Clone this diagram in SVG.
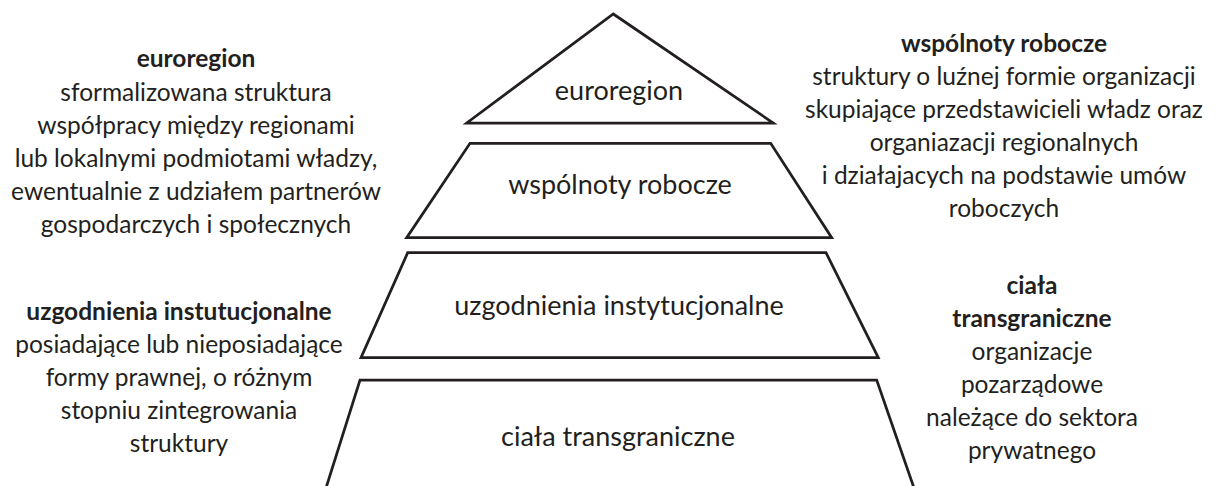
<svg xmlns="http://www.w3.org/2000/svg" width="1217" height="486" viewBox="0 0 1217 486">
<style>
.shape{fill:#ffffff;stroke:#231f20;stroke-width:2.75;stroke-linejoin:miter}
.lbl{font-family:Lato,"Liberation Sans",sans-serif;font-size:27px;fill:#231f20;text-anchor:middle}
.side{font-family:Lato,"Liberation Sans",sans-serif;font-size:24.5px;fill:#231f20;text-anchor:middle}
.b{font-weight:bold}
</style>
<rect width="1217" height="486" fill="#ffffff"/>
<g id="level-euroregion">
<polygon class="shape" points="613.3,14 773.3,123 466.7,123"/>
<text class="lbl" x="619" y="100">euroregion</text>
</g>
<g id="level-wspolnoty">
<polygon class="shape" points="470,143.3 770.7,143.3 831.7,237.7 406.7,237.7"/>
<text class="lbl" x="620" y="194">wspólnoty robocze</text>
</g>
<g id="level-uzgodnienia">
<polygon class="shape" points="407.7,252.7 826,252.7 878.3,357.7 361,357.7"/>
<text class="lbl" x="619" y="315">uzgodnienia instytucjonalne</text>
</g>
<g id="level-ciala">
<path class="shape" d="M 326,488 L 360,380 L 876.7,380 L 914,488"/>
<text class="lbl" x="618" y="446">ciała transgraniczne</text>
</g>
<g id="desc-euroregion">
<text class="side b" x="196" y="67">euroregion</text>
<text class="side" x="196" y="101">sformalizowana struktura</text>
<text class="side" x="196" y="134">współpracy między regionami</text>
<text class="side" x="196" y="167">lub lokalnymi podmiotami władzy,</text>
<text class="side" x="196" y="200">ewentualnie z udziałem partnerów</text>
<text class="side" x="196" y="233">gospodarczych i społecznych</text>
</g>
<g id="desc-wspolnoty">
<text class="side b" x="1004" y="52">wspólnoty robocze</text>
<text class="side" x="1004" y="85">struktury o luźnej formie organizacji</text>
<text class="side" x="1004" y="118">skupiające przedstawicieli władz oraz</text>
<text class="side" x="1004" y="151">organiazacji regionalnych</text>
<text class="side" x="1004" y="184">i działajacych na podstawie umów</text>
<text class="side" x="1004" y="217">roboczych</text>
</g>
<g id="desc-uzgodnienia">
<text class="side b" x="179" y="320">uzgodnienia instutucjonalne</text>
<text class="side" x="179" y="353">posiadające lub nieposiadające</text>
<text class="side" x="179" y="386">formy prawnej, o różnym</text>
<text class="side" x="179" y="419">stopniu zintegrowania</text>
<text class="side" x="179" y="452">struktury</text>
</g>
<g id="desc-ciala">
<text class="side b" x="1032" y="294">ciała</text>
<text class="side b" x="1032" y="327">transgraniczne</text>
<text class="side" x="1032" y="360">organizacje</text>
<text class="side" x="1032" y="393">pozarządowe</text>
<text class="side" x="1032" y="426">należące do sektora</text>
<text class="side" x="1032" y="459">prywatnego</text>
</g>
<g id="connectors"></g>
</svg>
